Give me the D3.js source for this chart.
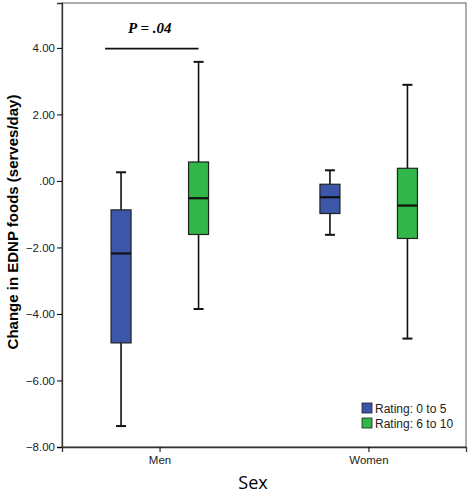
<!DOCTYPE html>
<html lang="en">
<head>
  <meta charset="UTF-8">
  <title>Change in EDNP foods by sex</title>
<style>
    body { margin: 0; background: #fff; }
    svg { display: block; font-family: Arial, "Liberation Sans", sans-serif; }
    .tick text { font-size: 11.5px; fill: #222; }
  </style>
</head>
<body>
  <svg id="chart" width="472" height="495"></svg>
<script src="https://d3js.org/d3.v7.min.js"></script>
<script>
    // Data
    const sexes = ['Men', 'Women'];
    const ratings = ['Rating: 0 to 5', 'Rating: 6 to 10'];
    const colors = ['#3c56a9', '#30b649'];
    // [lower whisker, Q1, median, Q3, upper whisker]
    const low05 = [[-7.37, -4.87, -2.18, -0.87, 0.26], [-1.62, -0.98, -0.49, -0.10, 0.32]];
    const high610 = [[-3.85, -1.61, -0.52, 0.57, 3.58], [-4.74, -1.73, -0.74, 0.38, 2.89]];
    const yTicks = [-8, -6, -4, -2, 0, 2, 4];

    const boxes = [];
    sexes.forEach((s, i) => {
      boxes.push({ sex: s, g: 0, v: low05[i] });
      boxes.push({ sex: s, g: 1, v: high610[i] });
    });

    const margin = { top: 3, right: 6, bottom: 48, left: 62 };
    const width = 472 - margin.left - margin.right;
    const height = 495 - margin.top - margin.bottom;

    const svg = d3.select('#chart')
      .append('g')
      .attr('transform', `translate(${margin.left}, ${margin.top})`);

    const x = d3.scalePoint().domain(sexes).range([0, width]).padding(0.467);
    const y = d3.scaleLinear().domain([-8, 5.35]).range([height, 0]);
    const off = d3.scaleOrdinal().domain([0, 1]).range([-38.5, 39]);
    const bw = 20;

    // frame
    svg.append('rect')
      .attr('width', width).attr('height', height)
      .attr('fill', 'none').attr('stroke', '#777').attr('stroke-width', 1.2);

    // axes
    const yAxis = svg.append('g')
      .call(d3.axisLeft(y).tickValues(yTicks).tickSize(5).tickPadding(2)
        .tickFormat(d => d === 0 ? '.00' : d3.format('.2f')(d)));
    yAxis.select('.domain').attr('stroke', '#333').attr('stroke-width', 1.3);

    const xAxis = svg.append('g')
      .attr('transform', `translate(0, ${height})`)
      .call(d3.axisBottom(x).tickSize(5).tickPadding(4));
    xAxis.select('.domain').attr('stroke', '#333').attr('stroke-width', 1.3);

    // boxes
    const bx = svg.selectAll('.box').data(boxes).enter().append('g')
      .attr('class', 'box')
      .attr('transform', d => `translate(${x(d.sex) + off(d.g)}, 0)`);

    bx.append('line')
      .attr('y1', d => y(d.v[0])).attr('y2', d => y(d.v[4]))
      .attr('stroke', '#111').attr('stroke-width', 1.6);
    bx.append('rect')
      .attr('x', -bw / 2).attr('width', bw)
      .attr('y', d => y(d.v[3])).attr('height', d => y(d.v[1]) - y(d.v[3]))
      .attr('fill', d => colors[d.g]).attr('stroke', '#222').attr('stroke-width', 1.2);
    bx.append('line')
      .attr('x1', -bw / 2).attr('x2', bw / 2)
      .attr('y1', d => y(d.v[2])).attr('y2', d => y(d.v[2]))
      .attr('stroke', '#111').attr('stroke-width', 2.2);
    bx.selectAll('.cap').data(d => [d.v[0], d.v[4]]).enter().append('line')
      .attr('x1', -5).attr('x2', 5)
      .attr('y1', v => y(v)).attr('y2', v => y(v))
      .attr('stroke', '#111').attr('stroke-width', 2);

    // significance bar
    const px1 = x('Men') + off(0) - 16, px2 = x('Men') + off(1);
    svg.append('line')
      .attr('x1', px1).attr('x2', px2)
      .attr('y1', y(3.98)).attr('y2', y(3.98))
      .attr('stroke', '#111').attr('stroke-width', 1.8);
    svg.append('text')
      .attr('x', (px1 + px2) / 2 - 2).attr('y', y(4.45))
      .attr('text-anchor', 'middle')
      .style('font-family', '"Liberation Serif", "DejaVu Serif", serif')
      .style('font-style', 'italic').style('font-weight', 'bold').style('font-size', '15px')
      .text('P = .04');

    // legend
    const lg = svg.append('g').attr('transform', `translate(${300}, ${400})`);
    ratings.forEach((r, i) => {
      lg.append('rect').attr('x', 0).attr('y', i * 15).attr('width', 10).attr('height', 10)
        .attr('fill', colors[i]).attr('stroke', '#222').attr('stroke-width', 0.8);
      lg.append('text').attr('x', 13).attr('y', i * 15 + 9.5)
        .style('font-size', '12px').attr('fill', '#222').text(r);
    });

    // axis titles
    d3.select('#chart').append('text')
      .attr('transform', 'translate(18, 222) rotate(-90)')
      .attr('text-anchor', 'middle')
      .style('font-weight', 'bold').style('font-size', '15px')
      .text('Change in EDNP foods (serves/day)');
    d3.select('#chart').append('text')
      .attr('x', 253).attr('y', 489)
      .attr('text-anchor', 'middle')
      .style('font-family', '"Open Sans", "Noto Sans", sans-serif').style('font-size', '18px')
      .text('Sex');
  </script>
</body>
</html>
